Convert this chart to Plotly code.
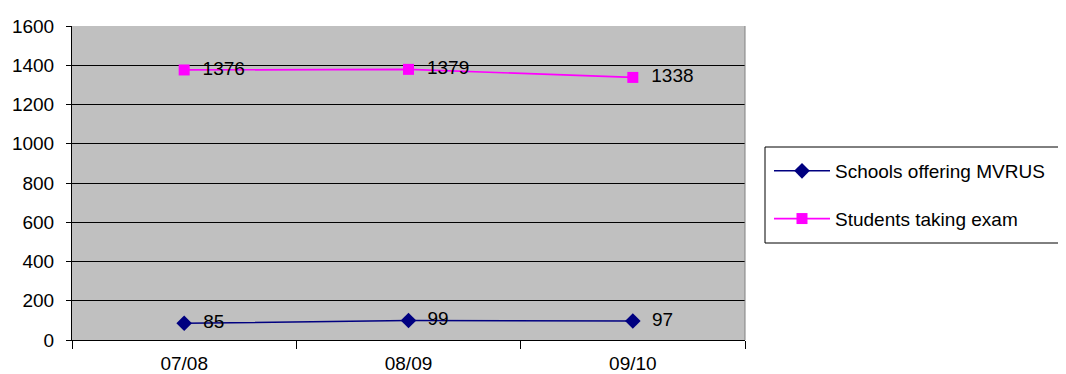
import plotly.graph_objects as go

years = ["07/08", "08/09", "09/10"]
schools = [85, 99, 97]
students = [1376, 1379, 1338]
y_ticks = [0, 200, 400, 600, 800, 1000, 1200, 1400, 1600]

font = "Liberation Sans, Arial, sans-serif"
FS = 19
pad = "\u00a0\u00a0"

fig = go.Figure()
fig.add_trace(go.Scatter(
    x=years, y=schools, name="Schools offering MVRUS",
    mode="lines+markers+text", text=[pad + str(v) for v in schools],
    textposition="middle right", textfont=dict(size=FS, color="black", family=font),
    line=dict(color="#000080", width=1.5),
    marker=dict(symbol="diamond", size=12, color="#000080"),
    legendgroup="a", cliponaxis=False,
))
fig.add_trace(go.Scatter(
    x=years, y=students, name="Students taking exam",
    mode="lines+markers+text", text=[pad + str(v) for v in students],
    textposition="middle right", textfont=dict(size=FS, color="black", family=font),
    line=dict(color="#FF00FF", width=1.7),
    marker=dict(symbol="square", size=11, color="#FF00FF"),
    legendgroup="b", cliponaxis=False,
))

# plot area in window pixels: x 72..745, y 26..340 (page body adds an 8px offset)
PW, PH = 673, 314
def px(x):
    return (x - 72) / PW
def py(y):
    return (340 - y) / PH

fig.update_layout(
    width=1058, height=366,
    margin=dict(l=64, r=321, t=18, b=34, autoexpand=False),
    paper_bgcolor="white", plot_bgcolor="#C0C0C0",
    font=dict(family=font, size=FS, color="black"),
    showlegend=True,
    legend=dict(
        x=px(769), y=py(152), xanchor="left", yanchor="top",
        bgcolor="rgba(0,0,0,0)", borderwidth=0,
        font=dict(size=FS, family=font, color="black"),
        traceorder="grouped", tracegroupgap=20,
        itemwidth=56,
    ),
    xaxis=dict(
        type="category", range=[-0.5, 2.5], automargin=False,
        showgrid=False, ticks="outside", tickson="boundaries",
        ticklen=8, tickcolor="black", showline=True, linecolor="black",
        linewidth=1, mirror=False, tickfont=dict(size=FS),
        ticklabelstandoff=6,
    ),
    yaxis=dict(
        range=[0, 1600], tickvals=y_ticks, ticktext=[str(v) for v in y_ticks],
        automargin=False,
        showgrid=True, gridcolor="black", gridwidth=1,
        ticks="outside", ticklen=5, tickcolor="black",
        showline=True, linecolor="black", linewidth=1,
        zeroline=False, tickfont=dict(size=FS),
        ticklabelstandoff=8,
    ),
    shapes=[
        dict(type="line", xref="paper", yref="paper", x0=1, x1=1, y0=0, y1=1,
             line=dict(color="#808080", width=1)),
        dict(type="rect", xref="paper", yref="paper",
             x0=px(765), x1=px(1062), y0=py(243), y1=py(147),
             line=dict(color="black", width=1), fillcolor="white", layer="below"),
    ],
)

fig.write_html("out.html")
